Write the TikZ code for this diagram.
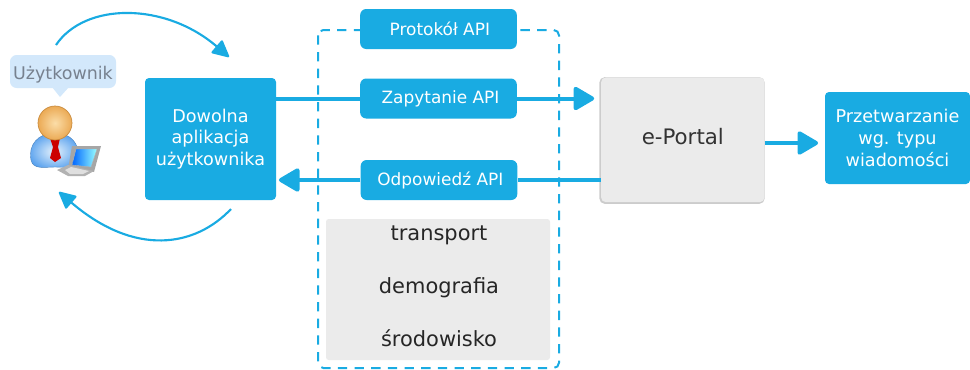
\documentclass[tikz,border=0pt]{standalone}
\usepackage{fontspec}
\setmainfont{DejaVu Sans}
\usetikzlibrary{arrows.meta,shadings}
\definecolor{bl}{HTML}{19ABE2}
\definecolor{gr}{HTML}{EBEBEB}
\definecolor{tip}{HTML}{D3E8FB}
\definecolor{tipt}{HTML}{77818F}
\definecolor{headin}{HTML}{FBDDA8}
\definecolor{headout}{HTML}{EBAA55}
\definecolor{headline}{HTML}{C88A3C}
\definecolor{bodyout}{HTML}{5AA2EE}
\definecolor{bodyin}{HTML}{E6F2FC}
\tikzset{
  bluebox/.style={fill=bl,draw=none,rounded corners=3pt,text=white,align=center,font=\fontsize{13.2}{16.3}\selectfont,inner sep=0pt,anchor=center},
  apibox/.style={bluebox,rounded corners=4.5pt,minimum width=117.5pt,minimum height=30pt,font=\fontsize{12.7}{15}\selectfont},
  graytext/.style={text=black!85,font=\fontsize{15.7}{18}\selectfont,inner sep=0pt,anchor=base},
  flow/.style={draw=bl,line width=3pt,-{Triangle[round,length=17pt,width=19pt]}},
  plain/.style={draw=bl,line width=3pt},
  loopline/.style={draw=bl,line width=1.6pt,-{Triangle[round,length=13.5pt,width=13pt]}},
}
\begin{document}
\begin{tikzpicture}[x=0.75pt,y=-0.75pt]
\useasboundingbox (0,0) rectangle (970,369);
% dashed frame
\draw[bl,line width=1.5pt,dash pattern=on 7pt off 5.5pt,rounded corners=4pt] (318,30) rectangle (559,368);
% grey panel
\fill[gr,rounded corners=2pt] (326,219) rectangle (550,360);
\node[graytext] (tr) at (439,240) {transport};
\node[graytext] (de) at (439,293) {demografia};
\node[graytext] (sr) at (439,346) {środowisko};
% shapes
\node[bluebox,minimum width=98.25pt,minimum height=91.5pt] (app) at (210.5,139) {Dowolna\\aplikacja\\użytkownika};
\node[fill=black!20,rounded corners=4pt,minimum width=124pt,minimum height=95pt,inner sep=0pt] (ps) at (682,140.5) {};
\node[fill=gr,rounded corners=3.5pt,minimum width=122.5pt,minimum height=93.5pt,inner sep=0pt,text=black!80,font=\fontsize{16}{18}\selectfont] (portal) at (682.8,139.8) {\raisebox{5pt}{e-Portal}};
\node[bluebox,minimum width=108.75pt,minimum height=69pt] (proc) at (897.5,138) {Przetwarzanie\\wg. typu\\wiadomości};
\node[apibox] (proto) at (438.5,29) {\hspace*{2pt}Protokół API};
\node[apibox] (query) at (438.5,98.5) {\hspace*{3pt}Zapytanie API};
\node[apibox] (resp) at (439,180) {\hspace*{2pt}Odpowiedź API};
% connectors
\draw[plain] (app.east |- query.west) -- (query.west);
\draw[flow,shorten >=5pt] (query.east) -- (portal.west |- query.east);
\draw[plain] (portal.west |- resp.east) -- (resp.east);
\draw[flow,shorten >=2pt] (resp.west) -- (app.east |- resp.west);
\coordinate (pout) at (portal.east |- 0,143);
\coordinate (pin) at (proc.west |- 0,143);
\draw[flow,shorten >=5pt] (pout) -- (pin);
% loop arrows
\coordinate (la) at (56,45);
\coordinate (lb) at (229,57);
\coordinate (lc) at (231,209);
\coordinate (ld) at (59,192);
\draw[loopline] (la) .. controls (85,2) and (165,2) .. (lb);
\draw[loopline] (lc) .. controls (195,247) and (135,257) .. (ld);
% speech tip
\fill[tip,rounded corners=5pt] (10,55) rectangle (116,88);
\fill[tip] (52,87) -- (60,97) -- (69,87) -- cycle;
\node[text=tipt,font=\fontsize{13.1}{15}\selectfont,inner sep=0pt] (user) at (63,75) {Użytkownik};
% person
\shade[inner color=bodyin,outer color=bodyout,draw=bodyout!80!black,line width=.3pt]
  (31,160) .. controls (28,145) and (38,133) .. (55,133) .. controls (70,133) and (80,143) .. (78,158) .. controls (77,170) and (66,167) .. (55,167) .. controls (45,167) and (33,170) .. (31,160) -- cycle;
\fill[red!80!black] (50,138) -- (60,138) -- (58,147) -- (61,158) -- (55,162) -- (50,158) -- (53,147) -- cycle;
\shade[inner color=headin,outer color=headout,draw=headline,line width=.5pt] (55,123) circle (17);
% laptop
\fill[gray!70] (72,146) -- (101,146) -- (94,172) -- (68,169) -- cycle;
\shade[left color=blue!60!cyan,right color=cyan!40,draw=gray!60,line width=.3pt] (76,149) -- (97,149) -- (91,167) -- (72,165) -- cycle;
\fill[gray!60] (57,170) -- (68,165) -- (94,171) -- (85,176) -- (68,176) -- cycle;
\fill[gray!25] (65,170) -- (71,167) -- (89,171) -- (83,174) -- (70,174) -- cycle;
\end{tikzpicture}
\end{document}
